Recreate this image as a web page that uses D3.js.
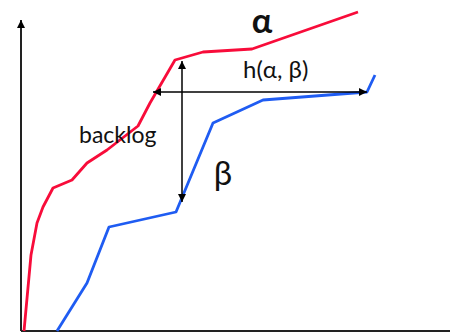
<!DOCTYPE html>
<html>
<head>
<meta charset="utf-8">
<script src="https://cdn.jsdelivr.net/npm/d3@7"></script>
<style>
  body { margin: 0; background: #fff; }
  text { font-family: Lato, "Open Sans", sans-serif; fill: #111; }
</style>
</head>
<body>
<svg width="450" height="333"></svg>
<script>
// curves, in chart units (x right from the y axis, y up from the x axis)
var alphaPts = [[3,0],[10,76],[16,108],[22,124],[32,143],[51,151],[66,168],[86,181],
  [117,205],[129,228],[154,271],[182,279],[231,282],[337,319]];
var betaPts = [[36,0],[66,48],[88,104],[155,119],[192,208],[242,231],[346,239],[354,256]];

// the two distance arrows
var hArrow = [[132,239],[346,239]];     // horizontal deviation h(a, b)
var vArrow = [[161,270],[161,129]];     // backlog

var labels = [
  {text: 'α', x: 241, y: 298, size: 34, weight: 'bold', anchor: 'middle'},
  {text: 'h(α, β)', x: 222, y: 253, size: 24, weight: 'normal', anchor: 'start'},
  {text: 'backlog', x: 58, y: 188, size: 23, weight: 'normal', anchor: 'start'},
  {text: 'β', x: 202, y: 146, size: 33, weight: 'normal', anchor: 'middle'}
];

var svg = d3.select('svg'),
  margin = {top: 11, right: 0, bottom: 2, left: 21},
  width = +svg.attr('width') - margin.left - margin.right,
  height = +svg.attr('height') - margin.top - margin.bottom;

var x = d3.scaleLinear().domain([0, 429]).range([margin.left, margin.left + width]),
    y = d3.scaleLinear().domain([0, 320]).range([margin.top + height, margin.top]);

var defs = svg.append('defs');
defs.append('marker')
  .attr('id', 'head')
  .attr('viewBox', '0 -5 10 10')
  .attr('refX', 10).attr('refY', 0)
  .attr('markerWidth', 9).attr('markerHeight', 8)
  .attr('markerUnits', 'userSpaceOnUse')
  .attr('orient', 'auto')
  .append('path').attr('d', 'M0,-5L10,0L0,5Z').attr('fill', '#000');
defs.append('marker')
  .attr('id', 'headStart')
  .attr('viewBox', '0 -5 10 10')
  .attr('refX', 0).attr('refY', 0)
  .attr('markerWidth', 9).attr('markerHeight', 8)
  .attr('markerUnits', 'userSpaceOnUse')
  .attr('orient', 'auto')
  .append('path').attr('d', 'M10,-5L0,0L10,5Z').attr('fill', '#000');

// axes
svg.append('line')
  .attr('x1', x(0)).attr('y1', y(0))
  .attr('x2', x(429)).attr('y2', y(0))
  .attr('stroke', '#222').attr('stroke-width', 2);
svg.append('line')
  .attr('x1', x(0)).attr('y1', y(0))
  .attr('x2', x(0)).attr('y2', 20)
  .attr('stroke', '#222').attr('stroke-width', 2)
  .attr('marker-end', 'url(#head)');

var line = d3.line().x(function(d) { return x(d[0]); }).y(function(d) { return y(d[1]); });

svg.append('path').datum(alphaPts)
  .attr('d', line).attr('fill', 'none')
  .attr('stroke', '#f80c3a').attr('stroke-width', 2.8).attr('stroke-linejoin', 'round');
svg.append('path').datum(betaPts)
  .attr('d', line).attr('fill', 'none')
  .attr('stroke', '#1f5cf2').attr('stroke-width', 2.8).attr('stroke-linejoin', 'round');

// arrows, both ends
[hArrow, vArrow].forEach(function(a) {
  svg.append('line')
    .attr('x1', x(a[0][0])).attr('y1', y(a[0][1]))
    .attr('x2', x(a[1][0])).attr('y2', y(a[1][1]))
    .attr('stroke', '#000').attr('stroke-width', 1.5)
    .attr('marker-start', 'url(#headStart)')
    .attr('marker-end', 'url(#head)');
});

svg.selectAll('.label')
  .data(labels)
  .enter().append('text')
  .attr('class', 'label')
  .attr('x', function(d) { return x(d.x); })
  .attr('y', function(d) { return y(d.y); })
  .attr('text-anchor', function(d) { return d.anchor; })
  .attr('font-size', function(d) { return d.size; })
  .attr('font-weight', function(d) { return d.weight; })
  .text(function(d) { return d.text; });
</script>
</body>
</html>
